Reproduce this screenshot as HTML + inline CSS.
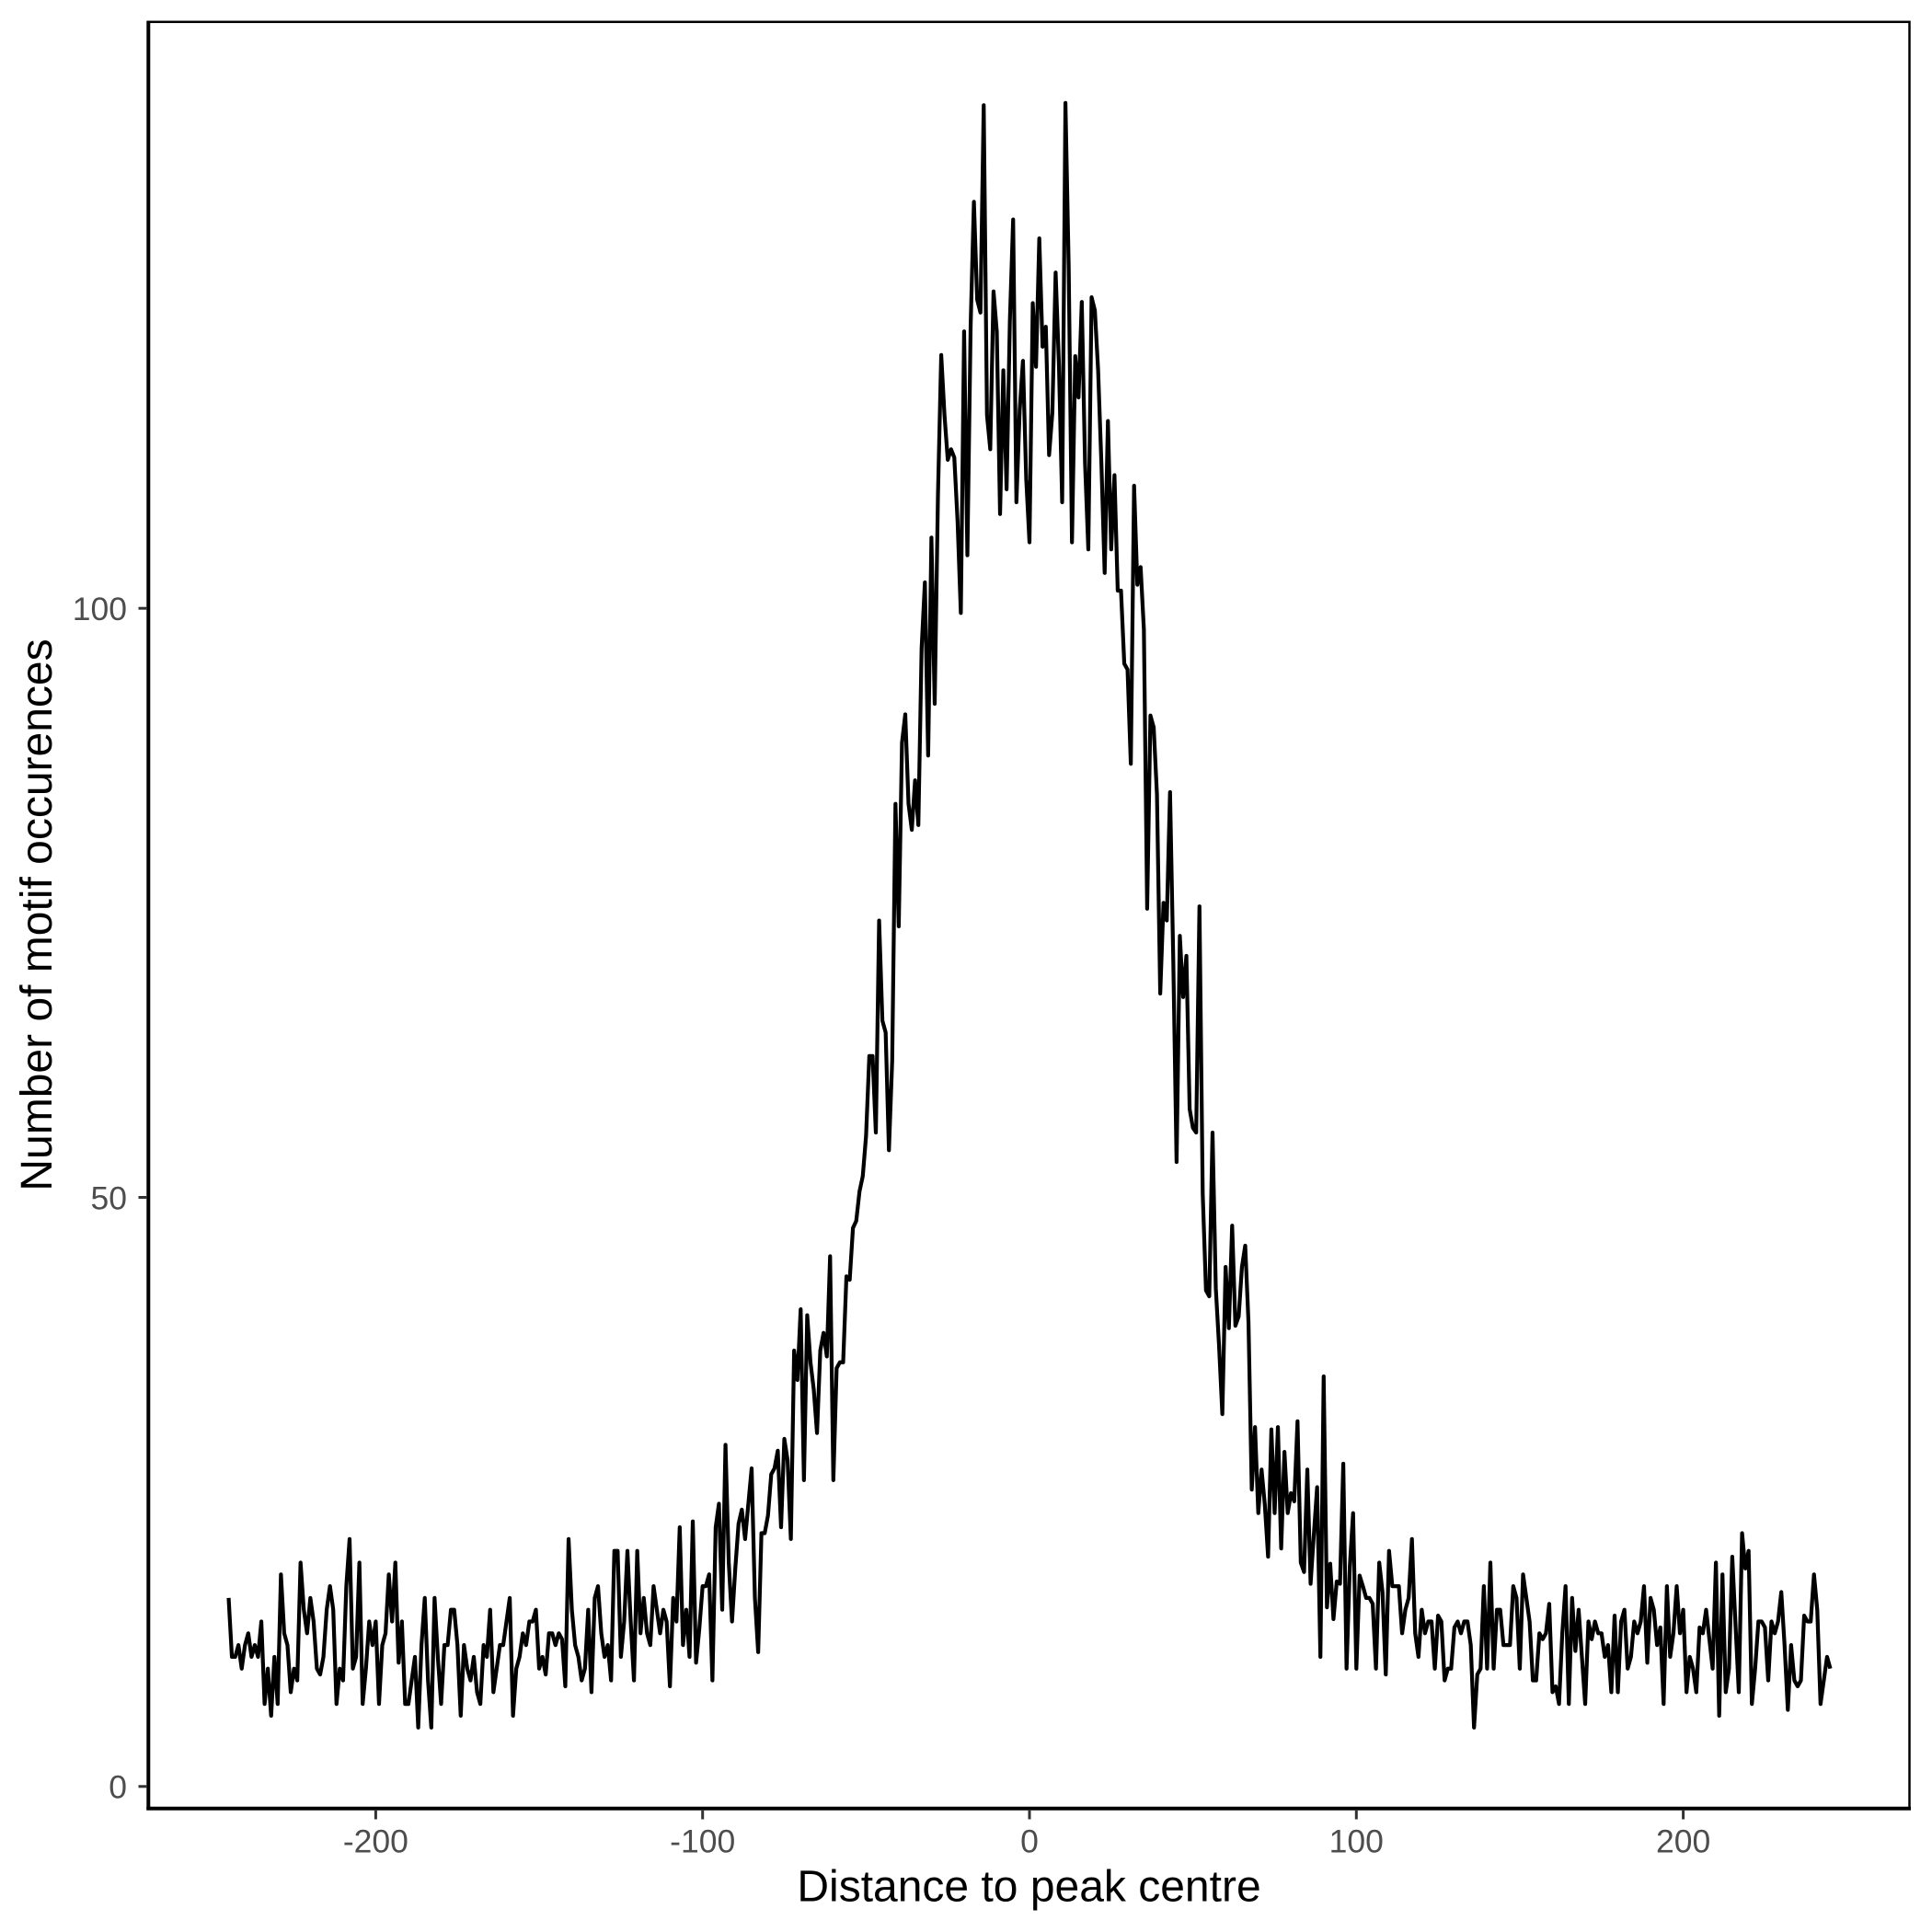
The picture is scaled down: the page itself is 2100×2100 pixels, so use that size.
<!DOCTYPE html>
<html><head><meta charset="utf-8"><style>
html,body{margin:0;padding:0;background:#fff;}
svg{display:block;}
</style></head><body>
<svg width="2100" height="2100" viewBox="0 0 2100 2100" xmlns="http://www.w3.org/2000/svg">
<rect x="0" y="0" width="2100" height="2100" fill="#fff"/>
<!-- data line -->
<g transform="translate(1119,1941.8) scale(3.553,-12.806)">
<polyline fill="none" stroke="#000" stroke-width="4.2" stroke-linejoin="round" vector-effect="non-scaling-stroke" points="
-245,16 -244,11 -243,11 -242,12 -241,10 -240,12 -239,13 -238,11 -237,12 -236,11 -235,14 -234,7 -233,10 -232,6 -231,11 -230,7 -229,18 -228,13 -227,12 -226,8 -225,10 -224,9 -223,19 -222,15 -221,13 -220,16 -219,14 -218,10 -217,9.5 -216,11 -215,15 -214,17 -213,15 -212,7 -211,10 -210,9 -209,17 -208,21 -207,10 -206,11 -205,19 -204,7 -203,10 -202,14 -201,12 -200,14 -199,7 -198,12 -197,13 -196,18 -195,14 -194,19 -193,10.5 -192,14 -191,7 -190,7 -189,9 -188,11 -187,5 -186,12 -185,16 -184,9 -183,5 -182,16 -181,11 -180,7 -179,12 -178,12 -177,15 -176,15 -175,12 -174,6 -173,12 -172,10 -171,9 -170,11 -169,8 -168,7 -167,12 -166,11 -165,15 -164,8 -163,10 -162,12 -161,12 -160,14 -159,16 -158,6 -157,10 -156,11 -155,13 -154,12 -153,14 -152,14 -151,15 -150,10 -149,11 -148,9.5 -147,13 -146,13 -145,12 -144,13 -143,12.5 -142,8.5 -141,21 -140,15 -139,12 -138,11 -137,9 -136,10 -135,15 -134,8 -133,16 -132,17 -131,13 -130,11 -129,12 -128,9 -127,20 -126,20 -125,11 -124,14 -123,20 -122,14 -121,9 -120,20 -119,13 -118,16 -117,13 -116,12 -115,17 -114,15 -113,13 -112,15 -111,14 -110,8.5 -109,16 -108,14 -107,22 -106,12 -105,15 -104,11 -103,22.5 -102,10.5 -101,13.4 -100,17 -99,17 -98,18 -97,9 -96,22 -95,24 -94,15 -93,29 -92,19 -91,14 -90,18.5 -89,22.3 -88,23.5 -87,21 -86,24 -85,27 -84,16 -83,11.4 -82,21.5 -81,21.5 -80,23 -79,26.5 -78,27 -77,28.5 -76,22 -75,29.5 -74,27.7 -73,21 -72,37 -71,34.5 -70,40.5 -69,26 -68,40 -67,36 -66,33.7 -65,30 -64,37 -63,38.5 -62,36.5 -61,45 -60,26 -59,35.5 -58,36 -57,36 -56,43.3 -55,43 -54,47.4 -53,48 -52,50.5 -51,51.8 -50,55.2 -49,62 -48,62 -47,55.5 -46,73.5 -45,65 -44,64 -43,54 -42,61.6 -41,83.4 -40,73 -39,88.6 -38,91 -37,83.4 -36,81.2 -35,85.4 -34,81.6 -33,96.6 -32,102.2 -31,87.5 -30,106 -29,91.9 -28,109.6 -27,121.5 -26,116.4 -25,112.6 -24,113.5 -23,112.8 -22,107.4 -21,99.6 -20,123.5 -19,104.5 -18,124 -17,134.5 -16,126.2 -15,125.1 -14,142.7 -13,116.4 -12,113.5 -11,126.9 -10,123.5 -9,108 -8,120.2 -7,110.1 -6,124.4 -5,133 -4,109 -3,116.8 -2,121 -1,111 0,105.6 1,125.9 2,120.5 3,131.4 4,122.2 5,123.9 6,113 7,116.6 8,128.5 9,120.8 10,109 11,142.9 12,128.9 13,105.6 14,121.4 15,117.9 16,126 17,112.3 18,105 19,126.4 20,125.3 21,120.2 22,112.3 23,103 24,115.9 25,105 26,111.3 27,101.5 28,101.5 29,95.3 30,94.8 31,86.8 32,110.4 33,102 34,103.5 35,98.2 36,74.5 37,90.9 38,89.9 39,84.2 40,67.3 41,75 42,73.5 43,84.4 44,70 45,53 46,72.2 47,67 48,70.5 49,57.5 50,55.9 51,55.5 52,74.7 53,50.3 54,42.1 55,41.6 56,55.5 57,42.3 58,37.4 59,31.6 60,44.1 61,38.9 62,47.6 63,39.1 64,39.9 65,44.1 66,45.9 67,39.4 68,25.2 69,30.5 70,23.2 71,26.9 72,23.9 73,19.5 74,30.3 75,23.2 76,30.5 77,20.2 78,28.4 79,23.2 80,24.9 81,24.2 82,31 83,19 84,18.2 85,26.9 86,17.2 87,21.4 88,25.4 89,11 90,34.8 91,15.2 92,18.9 93,14.2 94,17.4 95,17.2 96,27.4 97,10 98,18.7 99,23.2 100,10 101,17.9 102,17 103,16 104,16 105,15.5 106,10 107,19 108,16.5 109,9.5 110,20 111,17 112,17 113,17 114,13 115,15 116,16 117,21 118,13 119,11 120,15 121,13 122,14 123,14 124,10 125,14.5 126,14 127,9 128,10 129,10 130,13.5 131,14 132,13 133,14 134,14 135,12 136,5 137,9.5 138,10 139,17 140,10 141,19 142,10 143,15 144,15 145,12 146,12 147,12 148,17 149,16 150,10 151,18 152,16 153,14 154,9 155,9 156,13 157,12.5 158,13 159,15.5 160,8 161,8.5 162,7 163,13 164,17 165,7 166,16 167,11.5 168,15 169,11 170,7 171,14 172,12.5 173,14 174,13 175,13 176,11 177,12 178,8 179,14.5 180,8 181,14 182,15 183,10 184,11 185,14 186,13 187,14 188,17 189,10.5 190,16 191,15 192,12 193,13.5 194,7 195,17 196,11 197,13 198,17 199,13 200,15 201,8 202,11 203,10 204,8 205,13.5 206,13 207,15 208,12.5 209,10 210,19 211,6 212,18 213,8 214,10 215,19.5 216,13.7 217,8 218,21.5 219,18.5 220,20 221,7 222,10 223,14 224,14 225,13.5 226,9 227,14 228,13 229,14 230,16.5 231,12 232,6.5 233,12 234,9 235,8.5 236,9 237,14.5 238,14 239,14 240,18 241,15 242,7 243,9 244,11 245,10"/>
</g>
<!-- panel border -->
<rect x="161.5" y="23.8" width="1914" height="1942" fill="none" stroke="#000" stroke-width="2.5"/>
<!-- axis lines -->
<line x1="161.3" y1="22.6" x2="161.3" y2="1967.5" stroke="#000" stroke-width="4"/>
<line x1="159.3" y1="1965.8" x2="2077" y2="1965.8" stroke="#000" stroke-width="4"/>
<!-- y ticks -->
<g stroke="#333" stroke-width="3">
<line x1="150.5" y1="1941.8" x2="160" y2="1941.8"/>
<line x1="150.5" y1="1301.5" x2="160" y2="1301.5"/>
<line x1="150.5" y1="661.2" x2="160" y2="661.2"/>
</g>
<!-- x ticks -->
<g stroke="#333" stroke-width="3">
<line x1="408.4" y1="1967" x2="408.4" y2="1977.5"/>
<line x1="763.7" y1="1967" x2="763.7" y2="1977.5"/>
<line x1="1119" y1="1967" x2="1119" y2="1977.5"/>
<line x1="1474.3" y1="1967" x2="1474.3" y2="1977.5"/>
<line x1="1829.6" y1="1967" x2="1829.6" y2="1977.5"/>
</g>
<g font-family="Liberation Sans, Arial, sans-serif" font-size="35.5" fill="#4d4d4d">
<text x="138" y="1954.6" text-anchor="end">0</text>
<text x="138" y="1314.3" text-anchor="end">50</text>
<text x="138" y="674" text-anchor="end">100</text>
<text x="408.4" y="2013.3" text-anchor="middle">-200</text>
<text x="763.7" y="2013.3" text-anchor="middle">-100</text>
<text x="1119" y="2013.3" text-anchor="middle">0</text>
<text x="1474.3" y="2013.3" text-anchor="middle">100</text>
<text x="1829.6" y="2013.3" text-anchor="middle">200</text>
</g>
<g font-family="Liberation Sans, Arial, sans-serif" font-size="48" fill="#000">
<text x="1118.5" y="2066.7" text-anchor="middle">Distance to peak centre</text>
<text x="0" y="0" text-anchor="middle" transform="translate(56,994.5) rotate(-90)">Number of motif occurences</text>
</g>
</svg>
</body></html>
